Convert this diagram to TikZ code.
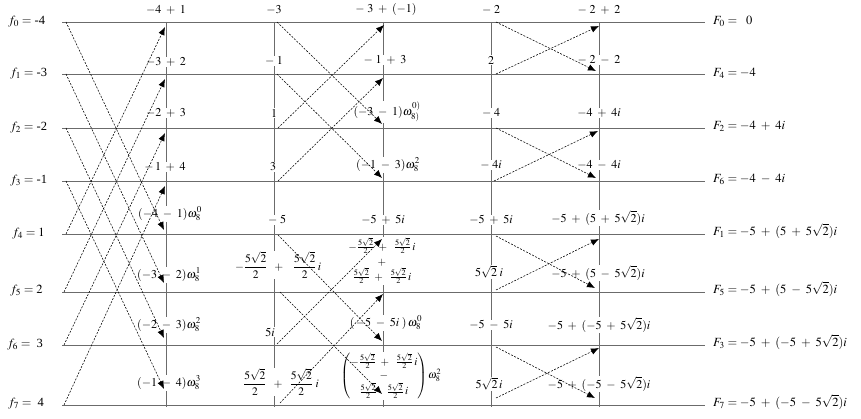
\documentclass[tikz,border=0pt]{standalone}
\usepackage{amsmath}
\usepackage{mathptmx}
\usepackage{fontspec}
\setmainfont{Liberation Serif}
\usetikzlibrary{arrows.meta}
\medmuskip=7mu plus 2mu minus 2mu
\newcommand{\rtt}{5\sqrt{2}}
\begin{document}
\begin{tikzpicture}[x=1pt,y=-1pt,
  gridline/.style={draw=black!58, line width=0.9pt},
  dashar/.style={dash pattern=on 2pt off 1.4pt, line width=0.55pt, -{Latex[length=8pt,width=6.5pt]}},
  lbl/.style={fill=white, inner sep=0.8pt, font=\fontsize{12}{14}\selectfont},
  inlbl/.style={anchor=west, inner sep=0pt, font=\fontsize{12.5}{14}\selectfont},
  outlbl/.style={anchor=west, inner sep=0pt, font=\fontsize{12.5}{14}\selectfont}]
\useasboundingbox (0,0) rectangle (861,419);
% rows
\foreach \y [count=\i from 0] in {22,74,128,181,234,292,345,405} {
  \coordinate (L\i) at (62,\y);
  \coordinate (R\i) at (705,\y);
}
\foreach \i in {0,...,7} \draw[gridline] (L\i) -- (R\i);
% columns
\foreach \x [count=\j] in {166,274,383,491,599} {
  \coordinate (T\j) at (\x,22);
  \coordinate (B\j) at (\x,407);
  \draw[gridline] (T\j) -- (B\j);
}
% input labels
\node[inlbl] (f0) at (8,22)  {$f_0 =$ -4};
\node[inlbl] (f1) at (10,74) {$f_1 =$ -3};
\node[inlbl] (f2) at (10,128) {$f_2 =$ -2};
\node[inlbl] (f3) at (10,181) {$f_3 =$ -1};
\node[inlbl] (f4) at (12,234) {$f_4 = 1$};
\node[inlbl] (f5) at (10,291) {$f_5 = 2$};
\node[inlbl] (f6) at (7,345) {$f_6 =$ \ 3};
\node[inlbl] (f7) at (8,404) {$f_7 =$ \ 4};
% output labels
\node[outlbl] (F0) at (713,21) {$F_0 = \ \ 0$};
\node[outlbl] (F4) at (713,73) {$F_4 = -4$};
\node[outlbl] (F2) at (713,126) {$F_2 = -4+4i$};
\node[outlbl] (F6) at (713,179) {$F_6 = -4-4i$};
\node[outlbl] (F1) at (713,231) {$F_1 = -5+(5+5\sqrt{2})i$};
\node[outlbl] (F5) at (713,289) {$F_5 = -5+(5-5\sqrt{2})i$};
\node[outlbl] (F3) at (713,342) {$F_3 = -5+(-5+5\sqrt{2})i$};
\node[outlbl] (F7) at (713,402) {$F_7 = -5+(-5-5\sqrt{2})i$};
% column 1 labels
\node[lbl] (a10) at (166,10) {$-4+1$};
\node[lbl] (a11) at (166,62) {$-3+2$};
\node[lbl] (a12) at (166,113) {$-2+3$};
\node[lbl] (a13) at (165,167) {$-\,1+4$};
\node[lbl] (a14) at (170,214) {$(-4-1)\omega_8^0$};
\node[lbl] (a15) at (169,275) {$(-3-2)\omega_8^1$};
\node[lbl] (a16) at (169,325) {$(-2-3)\omega_8^2$};
\node[lbl] (a17) at (169,383) {$(-1-4)\omega_8^3$};
% column 2 labels
\node[lbl] (a20) at (274,10) {$-3$};
\node[lbl] (a21) at (274,61) {$-\;1$};
\node[lbl] (a22) at (274,113) {$1$};
\node[lbl] (a23) at (273,167) {$3$};
\node[lbl] (a24) at (277,220) {$-\;5$};
\node[lbl, font=\fontsize{11.5}{13}\selectfont] (a25) at (278,265) {$-\dfrac{\rtt}{2}\;+\;\;\dfrac{\rtt}{2}\,i$};
\node[lbl] (a26) at (270,332) {$5i$};
\node[lbl, font=\fontsize{11.5}{13}\selectfont] (a27) at (281,382) {$\dfrac{\rtt}{2}\;+\;\dfrac{\rtt}{2}\;i$};
% column 3 labels
\node[lbl] (a30) at (386,10) {$-\;3+(-1)$};
\node[lbl] (a31) at (385,60) {$-\;1+3$};
\node[lbl] (a32) at (387,112) {$(-3-1)\omega_{8)}^{0)}$};
\node[lbl] (a33) at (388,165) {$(-1-3)\omega_8^2$};
\node[lbl] (a34) at (383,220) {$-5+5i$};
\node[lbl, align=center, font=\fontsize{11}{15}\selectfont] (a35) at (382,261)
  {$-\frac{\rtt}{2}+\;\frac{\rtt}{2}\,i$\\ $+$\\ $\frac{\rtt}{2}+\;\frac{\rtt}{2}\,i$};
\node[lbl] (a36) at (386,323) {$(\,-5-5i\;)\,\omega_8^0$};
\node[lbl, font=\fontsize{11}{13}\selectfont] (a37) at (391,376)
  {$\left(\renewcommand{\arraystretch}{1.05}\begin{array}{@{}c@{}}-\frac{\rtt}{2}+\;\frac{\rtt}{2}\,i\\ -\\ \frac{\rtt}{2}\;\;\;\;\frac{\rtt}{2}\,i\end{array}\right)\omega_8^2$};
% column 4 labels
\node[lbl] (a40) at (491,10) {$-\;2$};
\node[lbl] (a41) at (491,60) {$2$};
\node[lbl] (a42) at (491,113) {$-\;4$};
\node[lbl] (a43) at (491,165) {$-\;4i$};
\node[lbl] (a44) at (491,220) {$-5+5i$};
\node[lbl] (a45) at (489,272) {$5\sqrt{2}\;i$};
\node[lbl] (a46) at (491,325) {$-5-5i$};
\node[lbl] (a47) at (489,384) {$5\sqrt{2}\,i$};
% column 5 labels
\node[lbl] (a50) at (599,10) {$-\;2+2$};
\node[lbl] (a51) at (599,60) {$-\;2-2$};
\node[lbl] (a52) at (599,113) {$-4+4i$};
\node[lbl] (a53) at (599,165) {$-4-4i$};
\node[lbl] (a54) at (598,218) {$-5+(5+5\sqrt{2})i$};
\node[lbl] (a55) at (598,273) {$-5+(5-5\sqrt{2})i$};
\node[lbl] (a56) at (599,325) {$-5+(-5+5\sqrt{2})i$};
\node[lbl] (a57) at (599,384) {$-5+(-5-5\sqrt{2})i$};
% butterfly connectors
\foreach \n/\sx/\sy/\ex/\ey in {
  p0/66/22/164/230, p1/66/74/164/283, p2/66/128/164/338, p3/66/181/164/389,
  p4/66/234/165/27, p5/64/292/165/79, p6/64/345/165/133, p7/64/405/165/186,
  q0/277/22/382/124, q1/277/74/382/178, q2/278/128/384/25, q3/278/181/383/78,
  q4/278/235/382/341, q5/280/292/382/394, q6/277/344/382/239, q7/280/403/383/294,
  r0/496/22/596/71, r1/496/74/599/26, r2/496/128/596/178, r3/494/181/598/131,
  r4/496/236/595/288, r5/496/290/599/239, r6/496/347/595/398, r7/496/398/599/348} {
  \coordinate (s\n) at (\sx,\sy);
  \coordinate (e\n) at (\ex,\ey);
  \draw[dashar] (s\n) -- (e\n);
}
\end{tikzpicture}
\end{document}
